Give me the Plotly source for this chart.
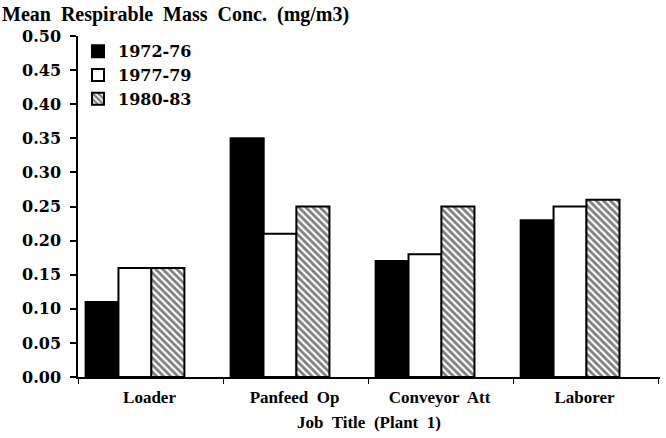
import plotly.graph_objects as go

categories = ["Loader", "Panfeed  Op", "Conveyor  Att", "Laborer"]
series_names = ["1972-76", "1977-79", "1980-83"]
v1972_76 = [0.11, 0.35, 0.17, 0.23]
v1977_79 = [0.16, 0.21, 0.18, 0.25]
v1980_83 = [0.16, 0.25, 0.25, 0.26]
y_ticks = [0.0, 0.05, 0.10, 0.15, 0.20, 0.25, 0.30, 0.35, 0.40, 0.45, 0.50]

SERIF = "Liberation Serif"
WIDE = "DejaVu Serif"
xpos = list(range(len(categories)))

W, H = 666, 438
ML, MR, MT, MB = 78, 6, 36, 61
PW, PH = W - ML - MR, H - MT - MB

fig = go.Figure()
styles = [
    dict(color="black", pattern=None),
    dict(color="white", pattern=None),
    dict(color="white", pattern=dict(shape="\\", fgcolor="black", bgcolor="white", size=5, solidity=0.55)),
]
for name, vals, st in zip(series_names, [v1972_76, v1977_79, v1980_83], styles):
    marker = dict(color=st["color"], line=dict(color="black", width=2))
    if st["pattern"]:
        marker["pattern"] = st["pattern"]
    fig.add_trace(go.Bar(x=xpos, y=vals, name=name, marker=marker, width=0.228))

fig.update_layout(
    width=W, height=H,
    barmode="group",
    bargap=0.32, bargroupgap=0,
    plot_bgcolor="white", paper_bgcolor="white",
    margin=dict(l=ML, r=MR, t=MT, b=MB, autoexpand=False),
    font=dict(family=SERIF, color="black", size=15),
    legend=dict(x=0.0, y=1.005, xanchor="left", yanchor="top", bgcolor="rgba(0,0,0,0)",
                font=dict(size=16, family=WIDE, weight="bold"), tracegroupgap=0, itemwidth=30),
    showlegend=True,
)
fig.add_annotation(text="<b>Mean  Respirable  Mass  Conc.  (mg/m3)</b>",
                   xref="paper", yref="paper", x=-ML / PW, y=1 + (MT - 14) / PH,
                   xanchor="left", yanchor="middle", showarrow=False,
                   font=dict(size=20, family=SERIF, color="black"))

fig.update_xaxes(
    range=[-0.393, 3.62],
    tickvals=[p + 0.1 for p in xpos],
    ticktext=[f"<b>{c}</b>" for c in categories],
    ticks="", showline=True, linecolor="black", linewidth=2,
    showgrid=False, zeroline=False, tickfont=dict(size=17, family=SERIF),
    ticklabelstandoff=4,
    minor=dict(tickmode="linear", tick0=0.61, dtick=1, ticks="outside", ticklen=5, tickcolor="black", tickwidth=1),
    title=dict(text="<b>Job  Title  (Plant  1)</b>", font=dict(size=17, family=SERIF), standoff=10),
    automargin=False,
)
fig.update_yaxes(
    range=[0, 0.5],
    tickvals=y_ticks,
    ticktext=[f"<b>{t:.2f}</b>" for t in y_ticks],
    ticks="outside", ticklen=6, tickwidth=1.5, tickcolor="black",
    ticklabelstandoff=6,
    showline=True, linecolor="black", linewidth=1.5,
    showgrid=False, zeroline=False, tickfont=dict(size=16, family=WIDE),
    automargin=False,
)
fig.write_html("out.html", config={"displayModeBar": False},
               post_script="document.body.style.margin='0';document.body.style.overflow='hidden';")
